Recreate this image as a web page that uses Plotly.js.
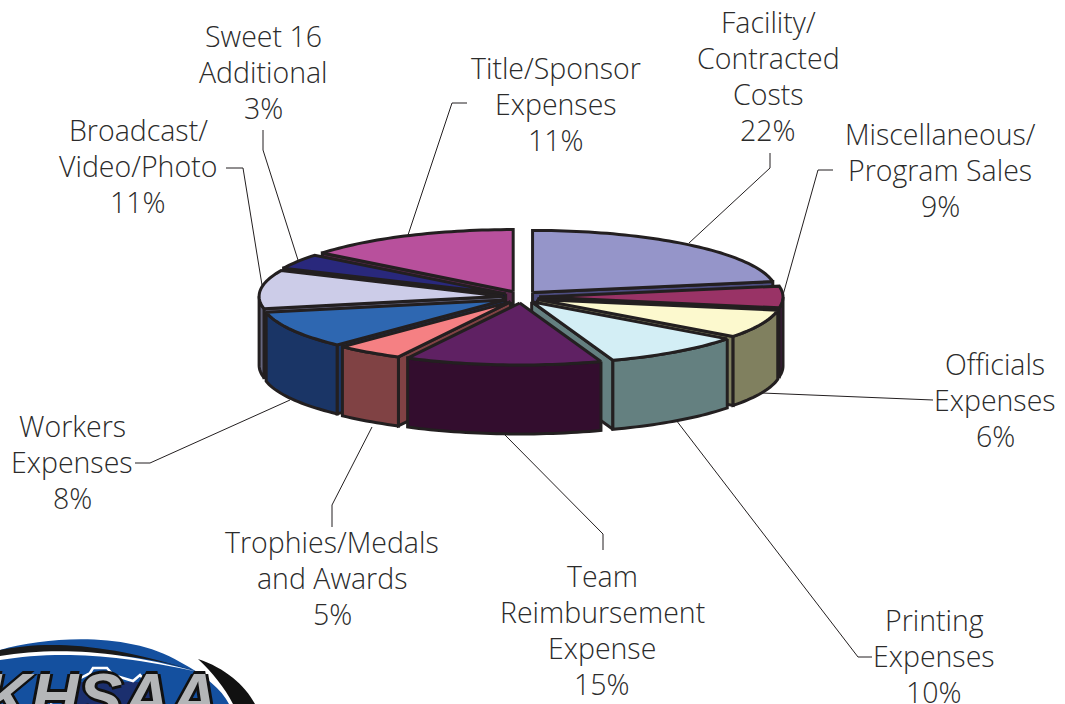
<!DOCTYPE html>
<html>
<head>
<meta charset="utf-8">
<script src="https://cdn.plot.ly/plotly-3.0.1.min.js"></script>
<style>html,body{margin:0;padding:0;background:#fff}#chart{width:1065px;height:704px}</style>
</head>
<body>
<div id="chart"></div>
<script>
// ---- data ----
const categories = ["Facility/ Contracted Costs","Miscellaneous/ Program Sales","Officials Expenses","Printing Expenses","Team Reimbursement Expense","Trophies/Medals and Awards","Workers Expenses","Broadcast/ Video/Photo","Sweet 16 Additional","Title/Sponsor Expenses"];
const printedPercent = [22,9,6,10,15,5,8,11,3,11];
// size of each wedge as it is actually drawn in the picture (percent of the turn)
const drawnShare = [22.2,5.6,7.4,9.4,13.0,4.5,9.7,10,3.9,14.3];
const labelLines = [
  ["Facility/","Contracted","Costs"],
  ["Miscellaneous/","Program Sales"],
  ["Officials","Expenses"],
  ["Printing","Expenses"],
  ["Team","Reimbursement","Expense"],
  ["Trophies/Medals","and Awards"],
  ["Workers","Expenses"],
  ["Broadcast/","Video/Photo"],
  ["Sweet 16","Additional"],
  ["Title/Sponsor","Expenses"]
];
// ---- style and layout ----
const topColors  = ["#9595C9","#993366","#FCF9CE","#D3EEF5","#5F2163","#F58083","#2E67B1","#CCCCE8","#29287C","#B8509C"];
const wallColors = ["#4D4D80","#451A44","#80805F","#648080","#330D2E","#804244","#1A3566","#66667F","#14143E","#5C284E"];
const labelAnchor = [[768,22],[940,134],[995,364],[934,620],[602,576],[332,542],[72,426],[138,130],[263,36],[556,68]];
const leaders = [
  [[689,243],[770,168],[770,153]],
  [[783,295],[818,170],[833,170]],
  [[762,393],[920,400],[933,400]],
  [[676,420],[858,657],[872,657]],
  [[505,435],[603,534],[603,550]],
  [[372,427],[332,505],[332,527]],
  [[290,400],[150,463],[135,463]],
  [[262,285],[243,168],[226,168]],
  [[298,260],[263,150],[263,130]],
  [[408,235],[452,103],[467,103]]
];
const INK = "#231F20", TEXT = "#2B2B2B", FONT = "'Open Sans', Lato, sans-serif", FS = 28.5, LEAD = 36;
const cx = 521, cy = 297, rx = 244, ry = 62, depth = 69, exX = 18, exY = 6;

const rad = d => d * Math.PI / 180;
const total = drawnShare.reduce((a, b) => a + b, 0);
let acc = 0;
const slices = drawnShare.map((s, i) => {
  const t0 = acc / total * 360; acc += s;
  const t1 = acc / total * 360; const tm = (t0 + t1) / 2;
  return {i, t0, t1, tm, ax: cx + exX * Math.sin(rad(tm)), ay: cy - exY * Math.cos(rad(tm))};
});
const rim = (s, t, dz = 0) => [s.ax + rx * Math.sin(rad(t)), s.ay - ry * Math.cos(rad(t)) + dz];
const arc = (s, a, b, dz = 0) => {
  const n = Math.max(2, Math.ceil(Math.abs(b - a) / 1.5)), out = [];
  for (let k = 0; k <= n; k++) out.push(rim(s, a + (b - a) * k / n, dz));
  return out;
};
const poly = (pts, fill, name) => ({
  type: "scatter", mode: "lines", x: pts.map(p => p[0]), y: pts.map(p => p[1]),
  fill: "toself", fillcolor: fill, line: {color: INK, width: 3, simplify: false},
  hoverinfo: "skip", showlegend: false, name
});
const traces = [];
[...slices].sort((a, b) => Math.cos(rad(b.tm)) - Math.cos(rad(a.tm))).forEach(s => {
  const wall = wallColors[s.i], name = categories[s.i];
  const cut = t => { const r = rim(s, t); return [[s.ax, s.ay], r, [r[0], r[1] + depth], [s.ax, s.ay + depth], [s.ax, s.ay]]; };
  if (s.t1 < 180) traces.push(poly(cut(s.t1), wall, name));
  if (s.t0 > 180) traces.push(poly(cut(s.t0), wall, name));
  const a = Math.max(s.t0, 90), b = Math.min(s.t1, 270);
  if (b > a) {
    const up = arc(s, a, b), down = arc(s, b, a, depth);
    traces.push(poly([...up, ...down, up[0]], wall, name));
  }
  traces.push(poly([[s.ax, s.ay], ...arc(s, s.t0, s.t1), [s.ax, s.ay]], topColors[s.i], name));
});
// leader lines
const lx = [], ly = [];
leaders.forEach(l => { l.forEach(p => { lx.push(p[0]); ly.push(p[1]); }); lx.push(null); ly.push(null); });
traces.unshift({type: "scatter", mode: "lines", x: lx, y: ly, line: {color: INK, width: 1}, hoverinfo: "skip", showlegend: false});

// labels, one annotation per text line
const annotations = [];
labelLines.forEach((lines, i) => {
  [...lines, printedPercent[i] + "%"].forEach((t, k) => annotations.push({
    x: labelAnchor[i][0], y: labelAnchor[i][1] + k * LEAD, xref: "x", yref: "y",
    text: t, showarrow: false, xanchor: "center", yanchor: "middle",
    font: {family: FONT, size: FS, color: TEXT, weight: 300}
  }));
});
// logo wordmark
annotations.push({x: 100, y: 658, xref: "x", yref: "y", text: "<b><i>KHSAA</i></b>", showarrow: false,
  xanchor: "center", yanchor: "top",
  font: {family: "Liberation Sans", size: 66, color: "#B4B6B8",
         shadow: "3px 0 #111, -3px 0 #111, 0 3px #111, 0 -3px #111"}});

const shapes = [
  {path: "M198 659 C225 668 245 685 255 704 L233 704 C225 688 212 672 198 659 Z", fill: "#111111"},
  {path: "M0 704 L0 650 C50 636 130 632 180 662 C205 675 222 690 229 704 Z", fill: "#14509F"},
  {path: "M0 650 C40 642 100 640 198 672 C140 652 60 648 0 658 Z", fill: "#1A1A1A"},
  {path: "M0 656 C50 648 110 648 198 672 C110 652 50 652 0 660 Z", fill: "#FFFFFF"},
  {path: "M80 682 L150 682 L160 704 L70 704 Z", fill: "#1B2F6E"},
  {path: "M50 703 L63 697 C68 690 72 684 77 680 L90 673 L93 668 L107 668 L113 675 L133 681 L140 675 L147 683 L153 697 L157 704", fill: "rgba(0,0,0,0)", color: "#FFFFFF", width: 2.5}
].map(s => ({type: "path", xref: "x", yref: "y", path: s.path, fillcolor: s.fill, line: {width: s.width || 0, color: s.color || "#000"}, layer: "below"}));

Plotly.newPlot("chart", traces, {
  width: 1065, height: 704, margin: {l: 0, r: 0, t: 0, b: 0},
  paper_bgcolor: "#fff", plot_bgcolor: "#fff", showlegend: false,
  xaxis: {range: [0, 1065], visible: false, fixedrange: true},
  yaxis: {range: [704, 0], visible: false, fixedrange: true},
  annotations, shapes
}, {displayModeBar: false, staticPlot: true});
</script>
</body>
</html>
